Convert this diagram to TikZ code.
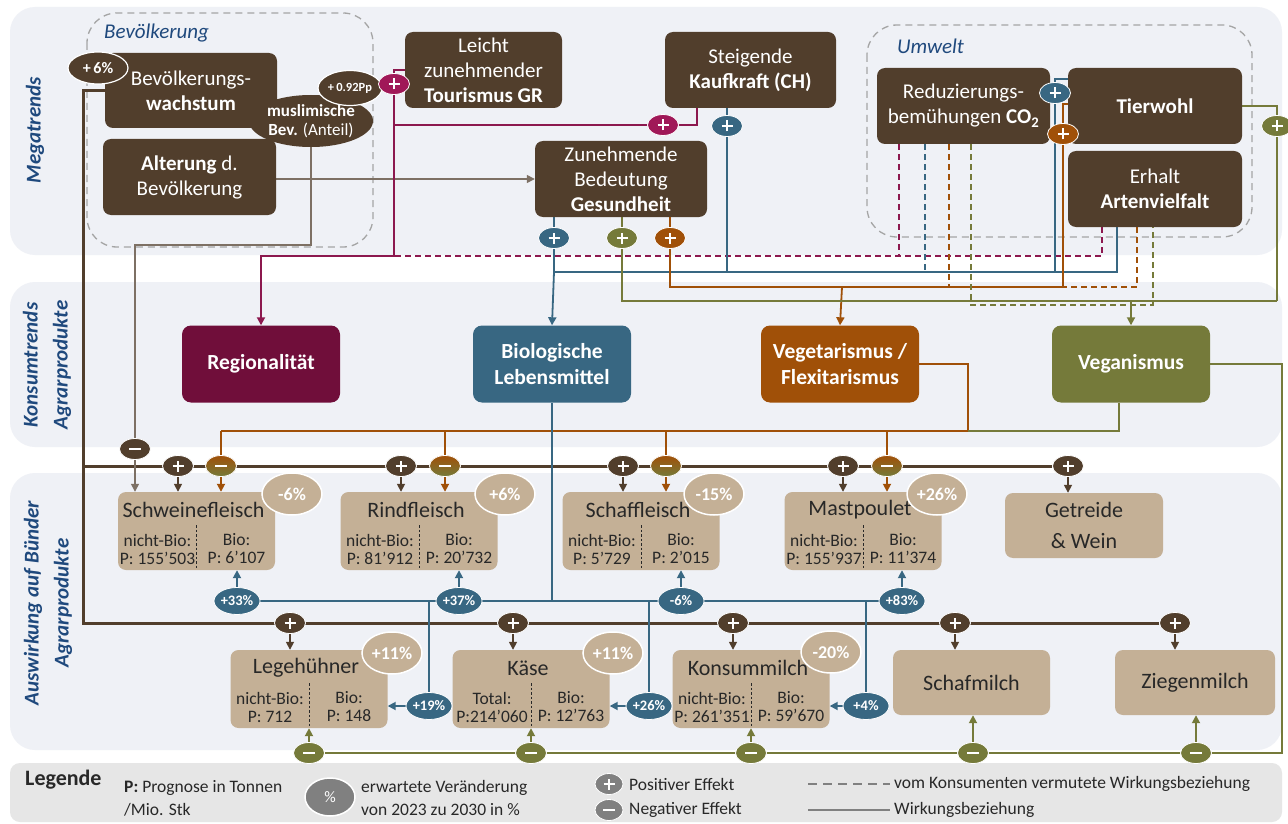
\documentclass[tikz,border=0pt]{standalone}
\usepackage{fontspec}
\setmainfont{Carlito}
\usetikzlibrary{shapes.geometric,arrows.meta}
\definecolor{cbrown}{RGB}{81,62,44}
\definecolor{cmaroon}{RGB}{112,14,58}
\definecolor{cmline}{RGB}{140,24,78}
\definecolor{cmark}{RGB}{160,24,88}
\definecolor{cteal}{RGB}{56,103,130}
\definecolor{corange}{RGB}{160,80,8}
\definecolor{colive}{RGB}{117,122,58}
\definecolor{ctan}{RGB}{196,176,150}
\definecolor{cband}{RGB}{239,241,246}
\definecolor{clegend}{RGB}{230,230,230}
\definecolor{cgroup}{RGB}{165,165,165}
\definecolor{clabel}{RGB}{31,73,125}
\definecolor{cgline}{RGB}{125,112,100}
\definecolor{ctext}{RGB}{40,40,40}
\definecolor{cgleg}{RGB}{128,128,128}
\pgfdeclarelayer{back}
\pgfdeclarelayer{mid}
\pgfsetlayers{back,mid,main}
\newcommand\prodbox[8]{%
  \node[prod] (#1) at (#2,#3) {};
  \node[ptitle] (#1-t) at (#2-3,#3-21) {#4};
  \node[psub] (#1-l) at (#2-39,#3+18) {#5\\#6};
  \node[psub] (#1-r) at (#2+40,#3+18) {#7\\#8};
  \draw[draw=ctext, line width=0.8pt, dash pattern=on 2.5pt off 2pt] (#2,#3-6) -- (#2,#3+37);
}
\begin{document}
\begin{tikzpicture}[x=1pt,y=-1pt,
  sz/.style 2 args={minimum width=#1pt,minimum height=#2pt},
  brownbox/.style={fill=cbrown, rounded corners=8pt, inner sep=0pt, text=white, align=center, font=\fontsize{21}{25}\selectfont},
  trendbox/.style={fill=#1, rounded corners=9pt, inner sep=0pt, minimum width=158pt, minimum height=77pt, text=white, align=center, font=\bfseries\fontsize{21.5}{26}\selectfont},
  prod/.style={fill=ctan, rounded corners=8pt, inner sep=0pt, minimum width=157pt, minimum height=78pt},
  ptitle/.style={inner sep=0pt, text=ctext, font=\fontsize{22}{27}\selectfont},
  psub/.style={inner sep=0pt, text=ctext, align=center, font=\fontsize{17.5}{18}\selectfont},
  pct/.style={ellipse, fill=ctan, draw=white, line width=1.5pt, minimum width=60pt, minimum height=42pt, inner sep=0pt, text=white, font=\bfseries\fontsize{18}{18}\selectfont},
  tpct/.style={ellipse, fill=cteal, draw=white, line width=0.8pt, minimum width=46pt, minimum height=27pt, inner sep=0pt, text=white, font=\bfseries\fontsize{14.5}{14.5}\selectfont},
  plusmk/.style={ellipse, fill=#1, draw=white, line width=0.8pt, minimum width=31pt, minimum height=21pt, inner sep=0pt,
    path picture={\draw[white,line width=2.6pt,shift={(path picture bounding box.center)}] (-5.5pt,0)--(5.5pt,0) (0,-5.5pt)--(0,5.5pt);}},
  minusmk/.style={ellipse, fill=#1, draw=white, line width=0.8pt, minimum width=31pt, minimum height=21pt, inner sep=0pt,
    path picture={\draw[white,line width=2.6pt,shift={(path picture bounding box.center)}] (-6pt,0)--(6pt,0);}},
  lbrown/.style={draw=cbrown, line width=3pt},
  sbrown/.style={draw=cbrown, line width=1.6pt},
  lteal/.style={draw=cteal, line width=1.8pt},
  lorange/.style={draw=corange, line width=1.8pt},
  lolive/.style={draw=colive, line width=1.8pt},
  lmaroon/.style={draw=cmline, line width=1.8pt},
  lgray/.style={draw=cgline, line width=1.4pt},
  ldash/.style={dash pattern=on 6pt off 4pt},
  arr/.style={-{Triangle[length=8pt,width=8pt]}},
  bandlabel/.style={text=clabel, font=\bfseries\itshape\fontsize{21}{30}\selectfont, align=center, inner sep=0pt},
  grouplabel/.style={text=clabel, font=\itshape\fontsize{21}{25}\selectfont, inner sep=0pt},
  groupdash/.style={draw=cgroup, line width=1.3pt, dash pattern=on 7pt off 5pt, rounded corners=30pt},
  legtxt/.style={text=ctext, font=\fontsize{17.5}{23}\selectfont, inner sep=0pt, align=left},
]
\useasboundingbox (0,0) rectangle (1288,824);
\begin{pgfonlayer}{back}
\fill[white] (0,0) rectangle (1288,824);
\fill[cband, rounded corners=25pt] (10,7) rectangle (1282,255);
\fill[cband, rounded corners=25pt] (10,282) rectangle (1282,447);
\fill[cband, rounded corners=25pt] (10,473) rectangle (1282,750);
\fill[clegend, rounded corners=10pt] (10,763) rectangle (1282,822);
\draw[groupdash] (87,13) rectangle (373,247);
\draw[groupdash] (867,25) rectangle (1252,237);
\end{pgfonlayer}

% band labels
\node[bandlabel, rotate=90] (lmega) at (35,130) {Megatrends};
\node[bandlabel, rotate=90] (lkons) at (47,365) {Konsumtrends\\Agrarprodukte};
\node[bandlabel, rotate=90] (lausw) at (48,603) {Auswirkung auf Bünder\\Agrarprodukte};
\node[grouplabel, anchor=west] (lbev) at (104,33) {Bevölkerung};
\node[grouplabel, anchor=west] (lumw) at (897,46) {Umwelt};

% megatrends
\node[brownbox, sz={172}{75}] (bw) at (191,90.5) {Bevölkerungs-\\\textbf{wachstum}};
\node[ellipse, fill=cbrown, sz={114}{52}, inner sep=0pt, text=white, align=center, font=\fontsize{17}{19}\selectfont] (musl) at (311,121) {\textbf{muslimische}\\\textbf{Bev.} (Anteil)};
\node[ellipse, fill=cbrown, draw=white, line width=1.2pt, sz={64}{35}, inner sep=0pt, text=white, font=\bfseries\fontsize{12.5}{13}\selectfont] (pp) at (350,88) {+\,0.92Pp};
\node[ellipse, fill=cbrown, draw=white, line width=1.2pt, sz={60}{32}, inner sep=0pt, text=white, font=\bfseries\fontsize{16}{16}\selectfont] (p6) at (98,68) {+\,6\%};
\node[brownbox, sz={173}{76}] (alt) at (189.5,177) {\textbf{Alterung} d.\\Bevölkerung};
\node[brownbox, sz={157}{76}] (tour) at (483.5,70) {Leicht\\zunehmender\\\textbf{Tourismus GR}};
\node[brownbox, sz={171}{76}] (kauf) at (750.5,70) {Steigende\\\textbf{Kaufkraft (CH)}};
\node[brownbox, sz={172}{76}] (ges) at (621,179) {Zunehmende\\Bedeutung\\\textbf{Gesundheit}};
\node[brownbox, sz={173}{76}] (co2) at (963.5,106) {Reduzierungs-\\bemühungen \textbf{CO\textsubscript{2}}};
\node[brownbox, sz={174}{76}] (tier) at (1155,106) {\textbf{Tierwohl}};
\node[brownbox, sz={174}{76}] (arten) at (1155,189) {Erhalt\\\textbf{Artenvielfalt}};

% consumer trends
\node[trendbox=cmaroon] (reg) at (261,364) {Regionalität};
\node[trendbox=cteal] (bio) at (552,364) {Biologische\\Lebensmittel};
\node[trendbox=corange] (veg) at (840,364) {Vegetarismus /\\Flexitarismus};
\node[trendbox=colive] (vgn) at (1131,364) {Veganismus};

% products
\prodbox{schwein}{196.5}{531}{Schweinefleisch}{nicht-Bio:}{P: 155’503}{Bio:}{P: 6’107}
\prodbox{rind}{419}{531}{Rindfleisch}{nicht-Bio:}{P: 81’912}{Bio:}{P: 20’732}
\prodbox{schaf}{641}{531}{Schaffleisch}{nicht-Bio:}{P: 5’729}{Bio:}{P: 2’015}
\prodbox{mast}{863}{531}{Mastpoulet}{nicht-Bio:}{P: 155’937}{Bio:}{P: 11’374}
\node[prod, minimum width=158pt, minimum height=65pt, align=center, text=ctext, font=\fontsize{22}{27}\selectfont] (getr) at (1084,525.5) {Getreide\\[4pt]\& Wein};
\prodbox{lege}{309}{689}{Legehühner}{nicht-Bio:}{P: 712}{Bio:}{P: 148}
\prodbox{kaese}{531}{689}{Käse}{Total:}{P:214’060}{Bio:}{P: 12’763}
\prodbox{milch}{751}{689}{Konsummilch}{nicht-Bio:}{P: 261’351}{Bio:}{P: 59’670}
\node[prod, minimum height=65pt, text=ctext, font=\fontsize{22}{27}\selectfont] (schafm) at (971.5,682.5) {Schafmilch};
\node[prod, minimum width=160pt, minimum height=65pt, text=ctext, font=\fontsize{22}{27}\selectfont] (ziege) at (1195,682.5) {Ziegenmilch};

\node[pct] (pcschwein) at (292,494) {-6\%};
\node[pct] (pcrind) at (505,494) {+6\%};
\node[pct] (pcschaf) at (714,494) {-15\%};
\node[pct] (pcmast) at (937,494) {+26\%};
\node[pct] (pclege) at (392,653) {+11\%};
\node[pct] (pckaese) at (613,653) {+11\%};
\node[pct] (pcmilch) at (831,652) {-20\%};

% markers
\node[plusmk=cmark] (mtour) at (394,84) {};
\node[plusmk=cmark] (mkm) at (663,125) {};
\node[plusmk=cteal] (mkt) at (727,126) {};
\node[plusmk=cteal] (mgt) at (554,238) {};
\node[plusmk=colive] (mgo) at (622,238) {};
\node[plusmk=corange] (mgr) at (670,238) {};
\node[plusmk=cteal] (mtt) at (1055,93) {};
\node[plusmk=corange] (mto) at (1063,134) {};
\node[plusmk=colive] (mtv) at (1277,126) {};

\node[minusmk=cbrown] (gm) at (135,449) {};
\node[plusmk=cbrown] (p1a) at (178,466) {};
\node[plusmk=cbrown] (p1b) at (401,466) {};
\node[plusmk=cbrown] (p1c) at (623,466) {};
\node[plusmk=cbrown] (p1d) at (843,466) {};
\node[plusmk=cbrown] (p1e) at (1068,466) {};
\node[minusmk=corange, top color=corange, bottom color=colive] (o1a) at (221,466) {};
\node[minusmk=corange, top color=corange, bottom color=colive] (o1b) at (445,466) {};
\node[minusmk=corange, top color=corange, bottom color=colive] (o1c) at (666,466) {};
\node[minusmk=corange, top color=corange, bottom color=colive] (o1d) at (887,466) {};
\node[plusmk=cbrown] (p2a) at (290,623) {};
\node[plusmk=cbrown] (p2b) at (513,623) {};
\node[plusmk=cbrown] (p2c) at (733,623) {};
\node[plusmk=cbrown] (p2d) at (955,623) {};
\node[plusmk=cbrown] (p2e) at (1175,623) {};
\node[minusmk=colive] (n2a) at (309,753) {};
\node[minusmk=colive] (n2b) at (531,753) {};
\node[minusmk=colive] (n2c) at (751,753) {};
\node[minusmk=colive] (n2d) at (973,753) {};
\node[minusmk=colive] (n2e) at (1196,753) {};
\node[tpct] (t1a) at (237,601) {+33\%};
\node[tpct] (t1b) at (459,601) {+37\%};
\node[tpct] (t1c) at (681,601) {-6\%};
\node[tpct] (t1d) at (902,601) {+83\%};
\node[tpct] (t2a) at (429,706) {+19\%};
\node[tpct] (t2b) at (649,706) {+26\%};
\node[tpct] (t2c) at (866,706) {+4\%};

% junction coordinates
\coordinate (mr) at (394,256);
\coordinate (md) at (899,256);
\coordinate (tb) at (554,272);
\coordinate (te) at (1117,227);
\coordinate (tt) at (1068,79);
\coordinate (ob) at (842,287);
\coordinate (tor) at (1068,104);
\coordinate (vb) at (1131,301);
\coordinate (vr) at (1277,301);
\coordinate (vd) at (1153,305);
\coordinate (ol) at (968,431);
\coordinate (mg) at (135,245);
\coordinate (bl) at (83,623);
\coordinate (bm) at (83,466);

\begin{pgfonlayer}{mid}
% brown population lines
\draw[lbrown] (bw.west) -| (bl) -- (p2e);
\draw[lbrown] (bm) -- (p1e);
\foreach \m/\b in {p1a/schwein,p1b/rind,p1c/schaf,p1d/mast,p1e/getr,p2a/lege,p2b/kaese,p2c/milch,p2d/schafm,p2e/ziege}
  \draw[sbrown,arr] (\m) -- (\m |- \b.north);
% gray lines
\draw[lgray,arr] (alt.east |- ges.west) -- (ges.west);
\draw[lgray] (musl.south) |- (mg) -- (gm);
\draw[lgray,arr] (gm) -- (gm |- schwein.north);
% maroon
\draw[lmaroon,arr] (tour.west) -| (mr) -| (reg.north);
\draw[lmaroon] ([xshift=32pt]kauf.south west) |- (mtour |- mkm);
\draw[lmaroon,ldash] ([xshift=22pt]co2.south west) |- (mr);
\draw[lmaroon,ldash] ([xshift=34pt]arten.south west) |- (md);
% teal
\draw[lteal] (te) |- (tb);
\draw[lteal,arr] (tb) -- (bio.north);
\draw[lteal] (mgt |- ges.south) -- (tb);
\draw[lteal] (mkt |- kauf.south) -- (mkt |- tb);
\draw[lteal] (tt) -| (mtt |- tb);
\draw[lteal,ldash] ([xshift=48pt]co2.south west) -- ++(0,128);
% orange
\draw[lorange] (mgr |- ges.south) |- (mto |- ob);
\draw[lorange] (tor) -| (mto |- ob);
\draw[lorange,ldash] ([xshift=72pt]co2.south west) -- ++(0,143);
\draw[lorange,ldash] ([xshift=69pt]arten.south west) |- (mto |- ob);
\draw[lorange,arr] (ob) -- (veg.north);
% olive
\draw[lolive] (mgo |- ges.south) |- (vr);
\draw[lolive] (tier.east) -| (vr);
\draw[lolive,ldash] ([xshift=94pt]co2.south west) |- (vd) -- (vd |- arten.south);
\draw[lolive,arr] (vb) -- (vgn.north);
% vegetarian / vegan negative effects
\draw[lorange] (veg.east) -| (ol) -- (o1a |- ol);
\foreach \m in {o1a,o1b,o1c,o1d} \draw[lorange] (\m |- ol) -- (\m);
\foreach \m/\b in {o1a/schwein,o1b/rind,o1c/schaf,o1d/mast} \draw[lorange,arr] (\m) -- (\m |- \b.north);
\draw[lolive] ([xshift=-12pt]vgn.south) |- (ol);
\draw[lolive] (vgn.east) -| (1282,753) -- (n2a);
\foreach \m/\b in {n2a/lege,n2b/kaese,n2c/milch,n2d/schafm,n2e/ziege} \draw[lolive,arr] (\m) -- (\m |- \b.south);
% bio effects
\draw[lteal] (bio.south) -- (bio.south |- t1a);
\draw[lteal] (t1a) -- (t1d);
\foreach \m/\b in {t1a/schwein,t1b/rind,t1c/schaf,t1d/mast} \draw[lteal,arr] (\m) -- (\m |- \b.south);
\foreach \m/\b in {t2a/lege,t2b/kaese,t2c/milch} {
  \draw[lteal] (\m |- t1a) -- (\m);
  \draw[lteal,arr] (\m) -- (\m -| \b.east);
}
\end{pgfonlayer}

% legend
\node[text=ctext, font=\bfseries\fontsize{22}{24}\selectfont, inner sep=0pt, anchor=west] (lg) at (25,780) {Legende};
\node[legtxt, anchor=west] (lp) at (124,798) {\textbf{P:} Prognose in Tonnen\\/Mio. Stk};
\node[ellipse, fill=cgleg, draw=white, line width=1.5pt, sz={50}{38}, inner sep=0pt, text=white, font=\fontsize{16}{16}\selectfont] (lpct) at (330,797) {\%};
\node[legtxt, anchor=west] (lerw) at (361,798) {erwartete Veränderung\\von 2023 zu 2030 in \%};
\node[plusmk=cgleg, sz={28}{21}] (lplus) at (609,784) {};
\node[legtxt, anchor=west] (lpos) at (629,784) {Positiver Effekt};
\node[minusmk=cgleg, sz={28}{21}] (lminus) at (609,810) {};
\node[legtxt, anchor=west] (lneg) at (629,810) {Negativer Effekt};
\coordinate (ld1) at (808,784);
\coordinate (ld2) at (890,784);
\coordinate (ls1) at (808,810);
\coordinate (ls2) at (890,810);
\draw[draw=cgleg, line width=2pt, dash pattern=on 9pt off 6pt] (ld1) -- (ld2);
\draw[draw=cgleg, line width=2pt] (ls1) -- (ls2);
\node[legtxt, anchor=west] (ldash) at (894,784) {vom Konsumenten vermutete Wirkungsbeziehung};
\node[legtxt, anchor=west] (lsol) at (894,810) {Wirkungsbeziehung};
\end{tikzpicture}
\end{document}
